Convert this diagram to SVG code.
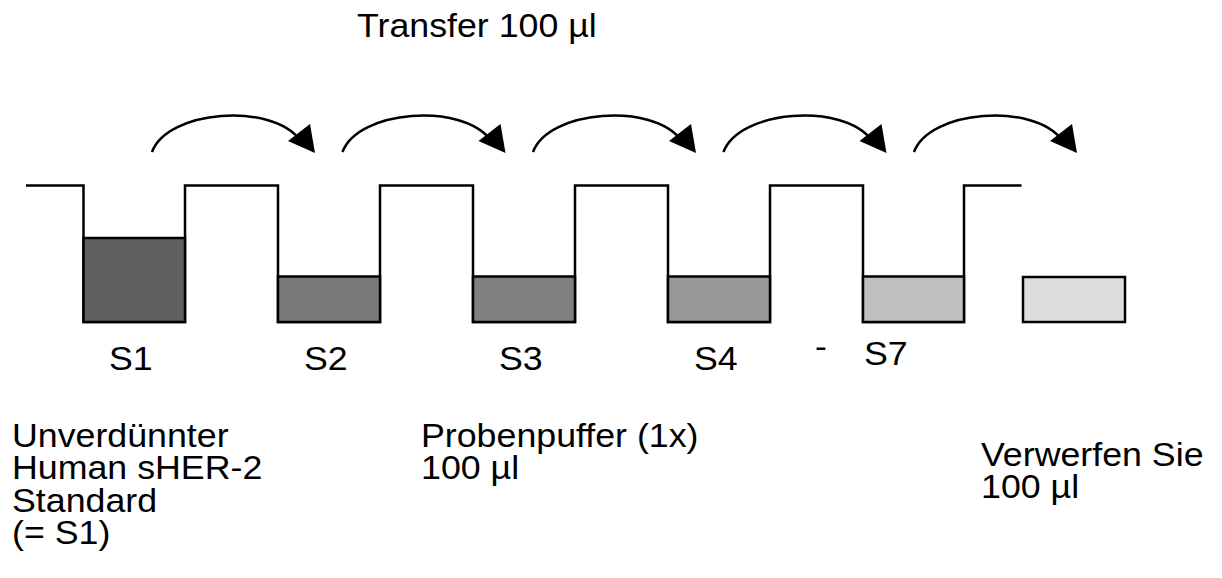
<svg xmlns="http://www.w3.org/2000/svg" width="1222" height="578" viewBox="0 0 1222 578">
<style>
text{font-family:"Liberation Sans",Arial,sans-serif;font-size:32.5px;fill:#000}
.w{fill:none;stroke:#000;stroke-width:2.5}
.f{stroke:#000;stroke-width:2.5}
.a{fill:none;stroke:#000;stroke-width:2.5}
</style>
<defs>
<g id="arr">
<path class="a" d="M0,0 C15,-42 120,-50 148,-12"/>
<polygon points="163,1 136,-11 158,-28" fill="#000"/>
</g>
</defs>
<rect width="1222" height="578" fill="#fff"/>
<g id="title"><text transform="matrix(1.1 0 0 1 357 37)">Transfer 100 µl</text></g>
<g id="connectors">
<use href="#arr" x="152" y="152"/>
<use href="#arr" x="342.5" y="152"/>
<use href="#arr" x="533" y="152"/>
<use href="#arr" x="723.5" y="152"/>
<use href="#arr" x="914" y="152"/>
</g>
<g id="plate">
<path class="w" d="M26,185.5 H83.5 V322 H185 V185.5 H278 V322 H380 V185.5 H473 V322 H575 V185.5 H668 V322 H770 V185.5 H863 V322 H964 V185.5 H1021.5"/>
</g>
<g id="s1"><rect class="f" x="83.5" y="238" width="101.5" height="84" fill="#5f5f5f"/><text transform="matrix(1.1 0 0 1 109 370)">S1</text></g>
<g id="s2"><rect class="f" x="278" y="276.5" width="102" height="45.5" fill="#7a7a7a"/><text transform="matrix(1.1 0 0 1 304 370)">S2</text></g>
<g id="s3"><rect class="f" x="473" y="276.5" width="102" height="45.5" fill="#808080"/><text transform="matrix(1.1 0 0 1 499 370)">S3</text></g>
<g id="s4"><rect class="f" x="668" y="276.5" width="102" height="45.5" fill="#979797"/><text transform="matrix(1.1 0 0 1 694 370)">S4</text></g>
<g id="dash"><text transform="matrix(1.1 0 0 1 815 358)">-</text></g>
<g id="s7"><rect class="f" x="863" y="276.5" width="101" height="45.5" fill="#c0c0c0"/><text transform="matrix(1.1 0 0 1 864 365)">S7</text></g>
<g id="waste"><rect class="f" x="1023" y="277" width="102" height="45" fill="#dddddd"/></g>
<g id="label-s1"><text transform="matrix(1.1 0 0 1 12 447)">Unverdünnter</text><text transform="matrix(1.1 0 0 1 12 479)">Human sHER-2</text><text transform="matrix(1.1 0 0 1 12 512)">Standard</text><text transform="matrix(1.1 0 0 1 12 544)">(= S1)</text></g>
<g id="label-buffer"><text transform="matrix(1.1 0 0 1 421 447)">Probenpuffer (1x)</text><text transform="matrix(1.1 0 0 1 421 479)">100 µl</text></g>
<g id="label-discard"><text transform="matrix(1.1 0 0 1 981 466)">Verwerfen Sie</text><text transform="matrix(1.1 0 0 1 981 498)">100 µl</text></g>
</svg>
